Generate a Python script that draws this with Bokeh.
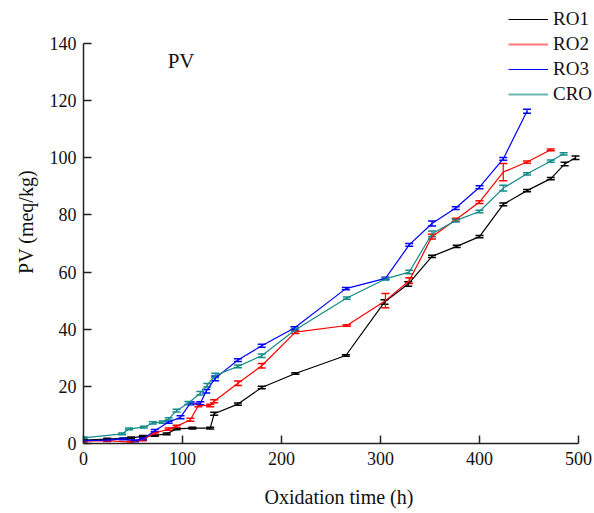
from bokeh.plotting import figure
from bokeh.models import ColumnDataSource, Whisker, TeeHead, Legend, LegendItem, Label, FixedTicker
from bokeh.embed import file_html
from bokeh.resources import INLINE

# ---- data ----
ro1_t = [0, 24, 48, 60, 72, 84, 94, 110, 128, 132, 156, 180, 214, 265, 304, 328, 352, 377, 400, 424, 448, 472, 486, 497]
ro1_v = [1.2, 1.5, 2.0, 2.5, 2.8, 3.4, 5.1, 5.4, 5.4, 10.4, 13.8, 19.6, 24.5, 30.8, 49.5, 55.8, 65.5, 69.0, 72.4, 83.7, 88.5, 92.7, 97.8, 100.0]
ro1_e = [0.3, 0.3, 0.3, 0.3, 0.3, 0.3, 0.3, 0.3, 0.3, 0.5, 0.4, 0.4, 0.3, 0.3, 0.8, 0.8, 0.4, 0.4, 0.4, 0.5, 0.4, 0.4, 0.6, 0.6]

ro2_t = [0, 24, 48, 60, 72, 86, 94, 108, 116, 128, 132, 156, 180, 214, 266, 305, 329, 352, 376, 400, 424, 448, 472]
ro2_v = [0.8, 1.0, 0.5, 1.3, 3.7, 5.0, 6.0, 8.3, 13.3, 13.3, 14.8, 21.1, 27.2, 39.0, 41.3, 50.0, 57.0, 72.4, 78.3, 84.5, 95.0, 98.5, 102.8]
ro2_e = [0.3, 0.3, 0.4, 0.3, 0.4, 0.4, 0.4, 0.5, 0.4, 0.4, 0.5, 0.8, 0.8, 0.5, 0.3, 2.5, 1.0, 0.8, 0.5, 0.5, 3.0, 0.4, 0.3]

ro3_t = [0, 24, 40, 52, 60, 72, 86, 98, 108, 118, 124, 133, 156, 180, 213, 265, 305, 329, 352, 376, 400, 424, 448]
ro3_v = [1.0, 1.2, 1.6, 0.9, 1.6, 4.5, 7.5, 9.2, 14.1, 14.1, 18.3, 22.8, 29.2, 34.2, 40.4, 54.2, 57.8, 69.5, 77.0, 82.4, 89.7, 99.6, 116.3]
ro3_e = [0.3, 0.3, 0.3, 0.3, 0.3, 0.4, 0.4, 0.5, 0.5, 0.5, 0.6, 0.8, 0.5, 0.5, 0.5, 0.4, 0.4, 0.5, 0.9, 0.5, 0.5, 0.5, 0.7]

cro_t = [0, 39, 46, 61, 70, 80, 86, 94, 106, 118, 125, 133, 156, 180, 214, 266, 305, 329, 352, 376, 400, 424, 448, 472, 485]
cro_v = [2.0, 3.4, 5.1, 5.7, 7.2, 7.5, 8.6, 11.5, 14.2, 17.6, 20.4, 23.8, 27.0, 30.7, 39.8, 50.9, 57.6, 60.0, 73.4, 78.0, 81.2, 89.4, 94.4, 98.8, 101.4]
cro_e = [0.3, 0.3, 0.3, 0.3, 0.4, 0.4, 0.4, 0.5, 0.5, 0.6, 0.6, 0.8, 0.5, 0.6, 0.5, 0.4, 0.4, 0.6, 1.0, 0.5, 0.4, 1.0, 0.4, 0.4, 0.4]

x_ticks = [0, 100, 200, 300, 400, 500]
y_ticks = [0, 20, 40, 60, 80, 100, 120, 140]
x_axis_max = 500
y_axis_max = 140

series = [
    ("RO1", ro1_t, ro1_v, ro1_e, "#000000", "#000000"),
    ("RO2", ro2_t, ro2_v, ro2_e, "#ff0000", "#ff7a7a"),
    ("RO3", ro3_t, ro3_v, ro3_e, "#0000ff", "#0000ff"),
    ("CRO", cro_t, cro_v, cro_e, "#138c88", "#6db6b2"),
]

FONT = "Liberation Serif"

# frame extends past the axes (axes are bounded) so the legend can sit in the corner
p = figure(output_backend="svg", toolbar_location=None,
           frame_width=511, frame_height=443,
           min_border_left=83, min_border_right=0, min_border_top=0, min_border_bottom=70,
           x_range=(0, x_axis_max + 16 / 0.99), y_range=(0, y_axis_max + 43 / (400 / 140)))

p.outline_line_color = None
p.xgrid.visible = False
p.ygrid.visible = False
p.background_fill_color = "white"
p.border_fill_color = "white"

for ax in (p.xaxis[0], p.yaxis[0]):
    ax.axis_line_color = "#222222"
    ax.axis_line_width = 1.5
    ax.major_tick_line_color = "#222222"
    ax.major_tick_line_width = 1.5
    ax.major_tick_in = 8
    ax.major_tick_out = 0
    ax.minor_tick_line_color = None
    ax.major_label_text_font = FONT
    ax.major_label_text_font_size = "18px"
    ax.major_label_text_color = "#111111"
    ax.axis_label_text_font = FONT
    ax.axis_label_text_font_size = "20px"
    ax.axis_label_text_font_style = "normal"
    ax.axis_label_text_color = "#111111"

p.xaxis[0].ticker = FixedTicker(ticks=x_ticks)
p.yaxis[0].ticker = FixedTicker(ticks=y_ticks)
p.xaxis[0].bounds = (0, x_axis_max)
p.yaxis[0].bounds = (0, y_axis_max)
p.xaxis[0].axis_label = "Oxidation time (h)"
p.yaxis[0].axis_label = "PV (meq/kg)"
p.xaxis[0].major_label_standoff = 8
p.xaxis[0].axis_label_standoff = 18
p.yaxis[0].major_label_standoff = 7
p.yaxis[0].axis_label_standoff = 10

legend_items = []
for name, t, v, e, col, lcol in series:
    lo = [a - b for a, b in zip(v, e)]
    hi = [a + b for a, b in zip(v, e)]
    src = ColumnDataSource(dict(t=t, v=v, lo=lo, hi=hi))
    p.line("t", "v", source=src, line_color=col, line_width=1.2)
    w = Whisker(source=src, base="t", upper="hi", lower="lo", dimension="height",
                line_color=col, line_width=1.2,
                upper_head=TeeHead(size=8, line_color=col, line_width=1.5),
                lower_head=TeeHead(size=8, line_color=col, line_width=1.5))
    p.add_layout(w)
    dummy = p.line([float("nan")], [float("nan")], line_color=lcol,
                   line_width=2 if lcol != col else 1.2)
    legend_items.append(LegendItem(label=name, renderers=[dummy]))

legend = Legend(items=legend_items, location=(425, 338),
                label_text_font=FONT, label_text_font_size="19px", label_text_color="#111111",
                glyph_width=40, glyph_height=20, label_height=20, spacing=3,
                label_standoff=5, padding=0, margin=0,
                border_line_color=None, background_fill_alpha=0)
p.add_layout(legend, "center")

p.add_layout(Label(x=85, y=134, text="PV", text_font=FONT, text_font_size="21px",
                   text_color="#111111", text_baseline="alphabetic"))

open("out.html", "w").write(file_html(p, INLINE))
